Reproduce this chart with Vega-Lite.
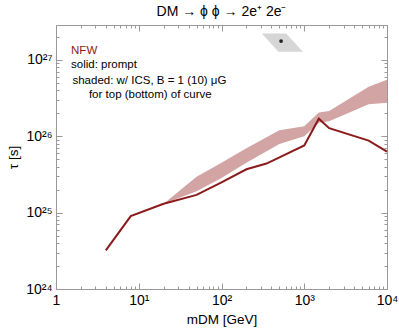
{
  "$schema": "https://vega.github.io/schema/vega-lite/v6.json",
  "width": 331,
  "height": 264,
  "autosize": {"type": "none"},
  "padding": {"left": 56, "top": 25, "right": 12, "bottom": 46},
  "background": "white",
  "title": {"text": "DM → ϕ ϕ → 2e⁺ 2e⁻", "fontSize": 14, "fontWeight": "normal", "font": "Liberation Sans", "color": "black", "offset": 6},
  "config": {
    "view": {"stroke": null},
    "axis": {"grid": false, "domainColor": "#999999", "tickColor": "#999999", "labelFont": "Liberation Sans", "labelFontSize": 14, "labelColor": "black", "titleFont": "Liberation Sans", "titleFontSize": 13.5, "titleFontWeight": "normal", "titleColor": "black"}
  },
  "resolve": {"axis": {"x": "independent", "y": "independent"}},
  "layer": [
    {
      "data": {"values": [
        {"m": 20, "lo": 1.31e25, "hi": 1.31e25},
        {"m": 50, "lo": 1.9e25, "hi": 2.95e25},
        {"m": 100, "lo": 2.85e25, "hi": 4.5e25},
        {"m": 200, "lo": 4.5e25, "hi": 7.0e25},
        {"m": 500, "lo": 7.9e25, "hi": 1.2e26},
        {"m": 1000, "lo": 1.0e26, "hi": 1.35e26},
        {"m": 1500, "lo": 1.5e26, "hi": 2.05e26},
        {"m": 2000, "lo": 1.58e26, "hi": 2.15e26},
        {"m": 6000, "lo": 2.63e26, "hi": 4.47e26},
        {"m": 10000, "lo": 2.75e26, "hi": 5.5e26}
      ]},
      "mark": {"type": "area", "color": "#d2a4a4", "opacity": 1},
      "encoding": {
        "x": {"field": "m", "type": "quantitative", "scale": {"type": "log", "domain": [1, 10000], "nice": false},
          "axis": {"orient": "bottom", "values": [1, 10, 100, 1000, 10000], "tickSize": -6, "labelPadding": 10, "labelExpr": "datum.value < 5 ? '1' : datum.value < 50 ? '10¹' : datum.value < 500 ? '10²' : datum.value < 5000 ? '10³' : '10⁴'", "title": "mDM [GeV]", "titlePadding": 5, "labelFlush": false}},
        "y": {"field": "lo", "type": "quantitative", "scale": {"type": "log", "domain": [1e24, 2.87e27], "nice": false},
          "axis": {"orient": "left", "values": [1e24, 1e25, 1e26, 1e27], "tickSize": -6, "labelPadding": 10, "labelExpr": "datum.value < 2e24 ? '10²⁴' : datum.value < 2e25 ? '10²⁵' : datum.value < 2e26 ? '10²⁶' : '10²⁷'", "title": "τ [s]", "titlePadding": 5, "labelFlush": false}},
        "y2": {"field": "hi"}
      }
    },
    {
      "data": {"values": [
        {"m": 4, "tau": 3.2e24},
        {"m": 8, "tau": 9.0e24},
        {"m": 20, "tau": 1.31e25},
        {"m": 50, "tau": 1.71e25},
        {"m": 100, "tau": 2.5e25},
        {"m": 200, "tau": 3.7e25},
        {"m": 350, "tau": 4.4e25},
        {"m": 1000, "tau": 7.6e25},
        {"m": 1500, "tau": 1.7e26},
        {"m": 2000, "tau": 1.28e26},
        {"m": 6000, "tau": 8.8e25},
        {"m": 10000, "tau": 6.3e25}
      ]},
      "mark": {"type": "line", "color": "#8b1a1a", "strokeWidth": 2},
      "encoding": {
        "x": {"field": "m", "type": "quantitative", "scale": {"type": "log", "domain": [1, 10000], "nice": false},
          "axis": {"orient": "bottom", "values": [2,3,4,5,6,7,8,9,20,30,40,50,60,70,80,90,200,300,400,500,600,700,800,900,2000,3000,4000,5000,6000,7000,8000,9000], "tickSize": -3, "labels": false, "domain": false, "title": null}},
        "y": {"field": "tau", "type": "quantitative", "scale": {"type": "log", "domain": [1e24, 2.87e27], "nice": false},
          "axis": {"orient": "left", "values": [2e24,3e24,4e24,5e24,6e24,7e24,8e24,9e24,2e25,3e25,4e25,5e25,6e25,7e25,8e25,9e25,2e26,3e26,4e26,5e26,6e26,7e26,8e26,9e26,2e27], "tickSize": -3, "labels": false, "domain": false, "title": null}}
      }
    },
    {
      "data": {"values": [
        {"py": 2.22e27, "pa": 307, "pb": 604},
        {"py": 1.28e27, "pa": 488, "pb": 962}
      ]},
      "mark": {"type": "area", "orient": "horizontal", "color": "#d6d6d6"},
      "encoding": {
        "y": {"field": "py", "type": "quantitative", "scale": {"type": "log", "domain": [1e24, 2.87e27], "nice": false},
          "axis": {"orient": "right", "values": [1e24, 1e25, 1e26, 1e27], "tickSize": -6, "labels": false, "title": null}},
        "x": {"field": "pa", "type": "quantitative", "scale": {"type": "log", "domain": [1, 10000], "nice": false},
          "axis": {"orient": "top", "values": [1, 10, 100, 1000, 10000], "tickSize": -6, "labels": false, "title": null}},
        "x2": {"field": "pb"}
      }
    },
    {
      "data": {"values": [{"m": 525, "tau": 1.77e27}]},
      "mark": {"type": "point", "filled": true, "color": "#222222", "size": 14, "opacity": 1},
      "encoding": {
        "x": {"field": "m", "type": "quantitative", "scale": {"type": "log", "domain": [1, 10000], "nice": false},
          "axis": {"orient": "top", "values": [2,3,4,5,6,7,8,9,20,30,40,50,60,70,80,90,200,300,400,500,600,700,800,900,2000,3000,4000,5000,6000,7000,8000,9000], "tickSize": -3, "labels": false, "domain": false, "title": null}},
        "y": {"field": "tau", "type": "quantitative", "scale": {"type": "log", "domain": [1e24, 2.87e27], "nice": false},
          "axis": {"orient": "right", "values": [2e24,3e24,4e24,5e24,6e24,7e24,8e24,9e24,2e25,3e25,4e25,5e25,6e25,7e25,8e25,9e25,2e26,3e26,4e26,5e26,6e26,7e26,8e26,9e26,2e27], "tickSize": -3, "labels": false, "domain": false, "title": null}}
      }
    },
    {
      "data": {"values": [{"t": "NFW"}]},
      "mark": {"type": "text", "align": "left", "baseline": "middle", "font": "Liberation Sans", "fontSize": 11.5, "color": "#8b1a1a"},
      "encoding": {
        "x": {"datum": 1.52, "type": "quantitative", "scale": {"type": "log", "domain": [1, 10000], "nice": false}, "axis": null},
        "y": {"datum": 1.31e27, "type": "quantitative", "scale": {"type": "log", "domain": [1e24, 2.87e27], "nice": false}, "axis": null},
        "text": {"field": "t"}
      }
    },
    {
      "data": {"values": [{"t": "solid: prompt"}]},
      "mark": {"type": "text", "align": "left", "baseline": "middle", "font": "Liberation Sans", "fontSize": 11.5, "color": "black"},
      "encoding": {
        "x": {"datum": 1.52, "type": "quantitative", "scale": {"type": "log", "domain": [1, 10000], "nice": false}, "axis": null},
        "y": {"datum": 8.6e26, "type": "quantitative", "scale": {"type": "log", "domain": [1e24, 2.87e27], "nice": false}, "axis": null},
        "text": {"field": "t"}
      }
    },
    {
      "data": {"values": [{"t": "shaded: w/ ICS, B = 1 (10) μG"}]},
      "mark": {"type": "text", "align": "left", "baseline": "middle", "font": "Liberation Sans", "fontSize": 11.5, "color": "black"},
      "encoding": {
        "x": {"datum": 1.58, "type": "quantitative", "scale": {"type": "log", "domain": [1, 10000], "nice": false}, "axis": null},
        "y": {"datum": 5.3e26, "type": "quantitative", "scale": {"type": "log", "domain": [1e24, 2.87e27], "nice": false}, "axis": null},
        "text": {"field": "t"}
      }
    },
    {
      "data": {"values": [{"t": "for top (bottom) of curve"}]},
      "mark": {"type": "text", "align": "left", "baseline": "middle", "font": "Liberation Sans", "fontSize": 11.5, "color": "black"},
      "encoding": {
        "x": {"datum": 2.5, "type": "quantitative", "scale": {"type": "log", "domain": [1, 10000], "nice": false}, "axis": null},
        "y": {"datum": 3.44e26, "type": "quantitative", "scale": {"type": "log", "domain": [1e24, 2.87e27], "nice": false}, "axis": null},
        "text": {"field": "t"}
      }
    }
  ]
}
